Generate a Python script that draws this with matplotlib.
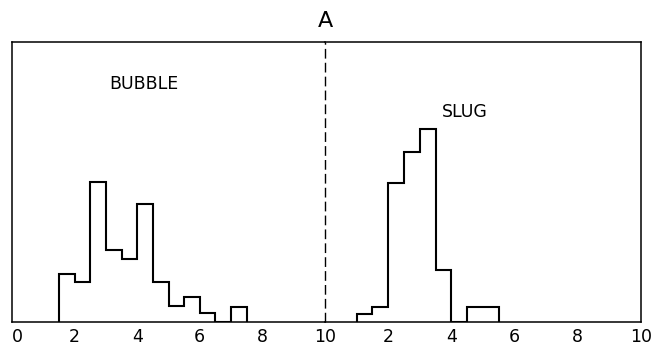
import matplotlib
matplotlib.use("Agg")
import matplotlib.pyplot as plt
import numpy as np

# Histogram of the two flow regimes (bin width 0.5)
bubble_edges = [1.5, 2.0, 2.5, 3.0, 3.5, 4.0, 4.5, 5.0, 5.5, 6.0, 6.5, 7.0, 7.5]
bubble_counts = [6.1, 5.0, 17.9, 9.1, 8.0, 15.0, 5.0, 2.0, 3.1, 1.1, 0, 1.9]

slug_edges = [1.0, 1.5, 2.0, 2.5, 3.0, 3.5, 4.0, 4.5, 5.0, 5.5]
slug_counts = [1.0, 1.85, 17.7, 21.7, 24.7, 6.6, 0, 1.8, 1.8]

bubble_ticks = [0, 2, 4, 6, 8, 10]
slug_ticks = [2, 4, 6, 8, 10]

panel_title = "A"
ymax = 35.8

W, H = 654, 349
fig = plt.figure(figsize=(W / 100, H / 100), dpi=100)
plt.rcParams["font.family"] = ["DejaVu Sans"]

x0, xm, x1 = 12, 325, 641
yb, yt = 321.5, 42
axL = fig.add_axes([x0 / W, 1 - yb / H, (xm - x0) / W, (yb - yt) / H])
axR = fig.add_axes([xm / W, 1 - yb / H, (x1 - xm) / W, (yb - yt) / H])
axR.patch.set_visible(False)

box_lw = 1.1
hist_lw = 1.5

for ax in (axL, axR):
    ax.set_xlim(0, 10)
    ax.set_ylim(0, ymax)
    ax.set_yticks([])
    ax.tick_params(axis="x", length=0, pad=5, labelsize=12.5)
    for s in ax.spines.values():
        s.set_linewidth(box_lw)
        s.set_color("black")

axL.stairs(bubble_counts, bubble_edges, color="black", linewidth=hist_lw)
axR.stairs(slug_counts, slug_edges, color="black", linewidth=hist_lw)

# dashed divider between the two regimes
axL.spines["right"].set_visible(False)
axR.spines["left"].set_visible(False)
axL.axvline(10, color="black", linewidth=1.0, linestyle=(0, (7, 3)), clip_on=False)

axL.set_xticks(bubble_ticks)
axL.set_xticklabels([str(t) for t in bubble_ticks])
axL.get_xticklabels()[0].set_horizontalalignment("left")
axR.set_xticks(slug_ticks)
axR.set_xticklabels([str(t) for t in slug_ticks])

axL.text(4.2, 0.848 * ymax, "BUBBLE", ha="center", va="center", fontsize=12.5)
axR.text(4.43, 0.751 * ymax, "SLUG", ha="center", va="center", fontsize=12.5)
fig.text(xm / W, 1 - 21 / H, panel_title, ha="center", va="center", fontsize=16)

fig.savefig("out.png", dpi=100)
